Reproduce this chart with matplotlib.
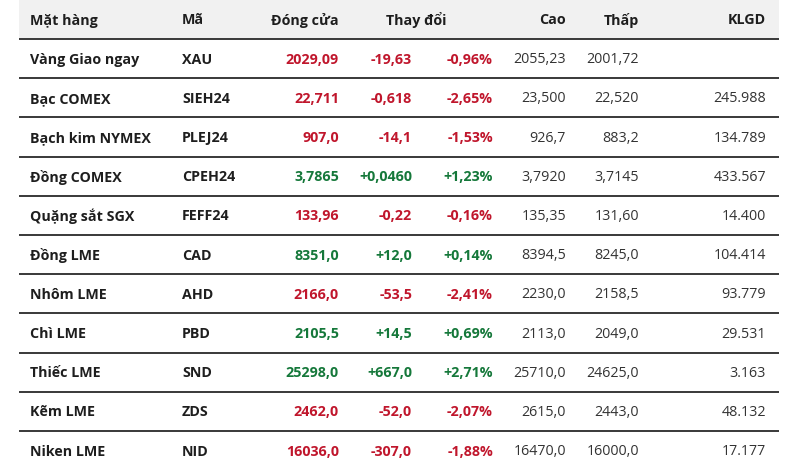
import matplotlib
matplotlib.use("Agg")
import matplotlib.pyplot as plt

headers = ["Mặt hàng", "Mã", "Đóng cửa", "Thay đổi", "Cao", "Thấp", "KLGD"]
names = ["Vàng Giao ngay", "Bạc COMEX", "Bạch kim NYMEX", "Đồng COMEX", "Quặng sắt SGX",
         "Đồng LME", "Nhôm LME", "Chì LME", "Thiếc LME", "Kẽm LME", "Niken LME"]
codes = ["XAU", "SIEH24", "PLEJ24", "CPEH24", "FEFF24", "CAD", "AHD", "PBD", "SND", "ZDS", "NID"]
close = ["2029,09", "22,711", "907,0", "3,7865", "133,96", "8351,0", "2166,0", "2105,5",
         "25298,0", "2462,0", "16036,0"]
change = ["-19,63", "-0,618", "-14,1", "+0,0460", "-0,22", "+12,0", "-53,5", "+14,5",
          "+667,0", "-52,0", "-307,0"]
pct = ["-0,96%", "-2,65%", "-1,53%", "+1,23%", "-0,16%", "+0,14%", "-2,41%", "+0,69%",
       "+2,71%", "-2,07%", "-1,88%"]
high = ["2055,23", "23,500", "926,7", "3,7920", "135,35", "8394,5", "2230,0", "2113,0",
        "25710,0", "2615,0", "16470,0"]
low = ["2001,72", "22,520", "883,2", "3,7145", "131,60", "8245,0", "2158,5", "2049,0",
       "24625,0", "2443,0", "16000,0"]
volume = ["", "245.988", "134.789", "433.567", "14.400", "104.414", "93.779", "29.531",
          "3.163", "48.132", "17.177"]

RED = "#c0162c"
GREEN = "#15783a"
DARK = "#1e1e1e"
REG = "#333333"

W, H = 800, 466
fig = plt.figure(figsize=(8, 4.66), dpi=100)
ax = fig.add_axes([0, 0, 1, 1])
ax.set_xlim(0, W)
ax.set_ylim(H, 0)
ax.axis("off")

FONT = "Open Sans"
FS = 10.3
BW = "bold"
left, right = 19, 779
header_h = 39
row_h = 39.2

ax.add_patch(plt.Rectangle((left, 0), right - left, header_h, color="#f1f1f1", lw=0, zorder=0))

hdr_pos = [(30, "left"), (182, "left"), (339, "right"), (416, "center"), (566, "right"),
           (639, "right"), (766, "right")]
hy = header_h / 2 + 1
for (x, ha), h in zip(hdr_pos, headers):
    ax.text(x, hy, h, ha=ha, va="center", fontsize=FS, fontweight=BW,
            color=DARK, family=FONT)

for i in range(len(names)):
    top = header_h + i * row_h
    ax.plot([left, right], [top, top], color="#2a2a2a", lw=1.3, solid_capstyle="butt")
    yc = top + row_h / 2 + 1
    col = GREEN if change[i].startswith("+") else RED
    ax.text(30, yc, names[i], ha="left", va="center", fontsize=FS, fontweight=BW,
            color=DARK, family=FONT)
    ax.text(182, yc, codes[i], ha="left", va="center", fontsize=FS, fontweight=BW,
            color=DARK, family=FONT)
    ax.text(339, yc, close[i], ha="right", va="center", fontsize=FS, fontweight=BW,
            color=col, family=FONT)
    ax.text(412, yc, change[i], ha="right", va="center", fontsize=FS, fontweight=BW,
            color=col, family=FONT)
    ax.text(493, yc, pct[i], ha="right", va="center", fontsize=FS, fontweight=BW,
            color=col, family=FONT)
    ax.text(566, yc, high[i], ha="right", va="center", fontsize=FS, color=REG, family=FONT)
    ax.text(639, yc, low[i], ha="right", va="center", fontsize=FS, color=REG, family=FONT)
    ax.text(766, yc, volume[i], ha="right", va="center", fontsize=FS, color=REG, family=FONT)

fig.savefig("out.png", dpi=100)
